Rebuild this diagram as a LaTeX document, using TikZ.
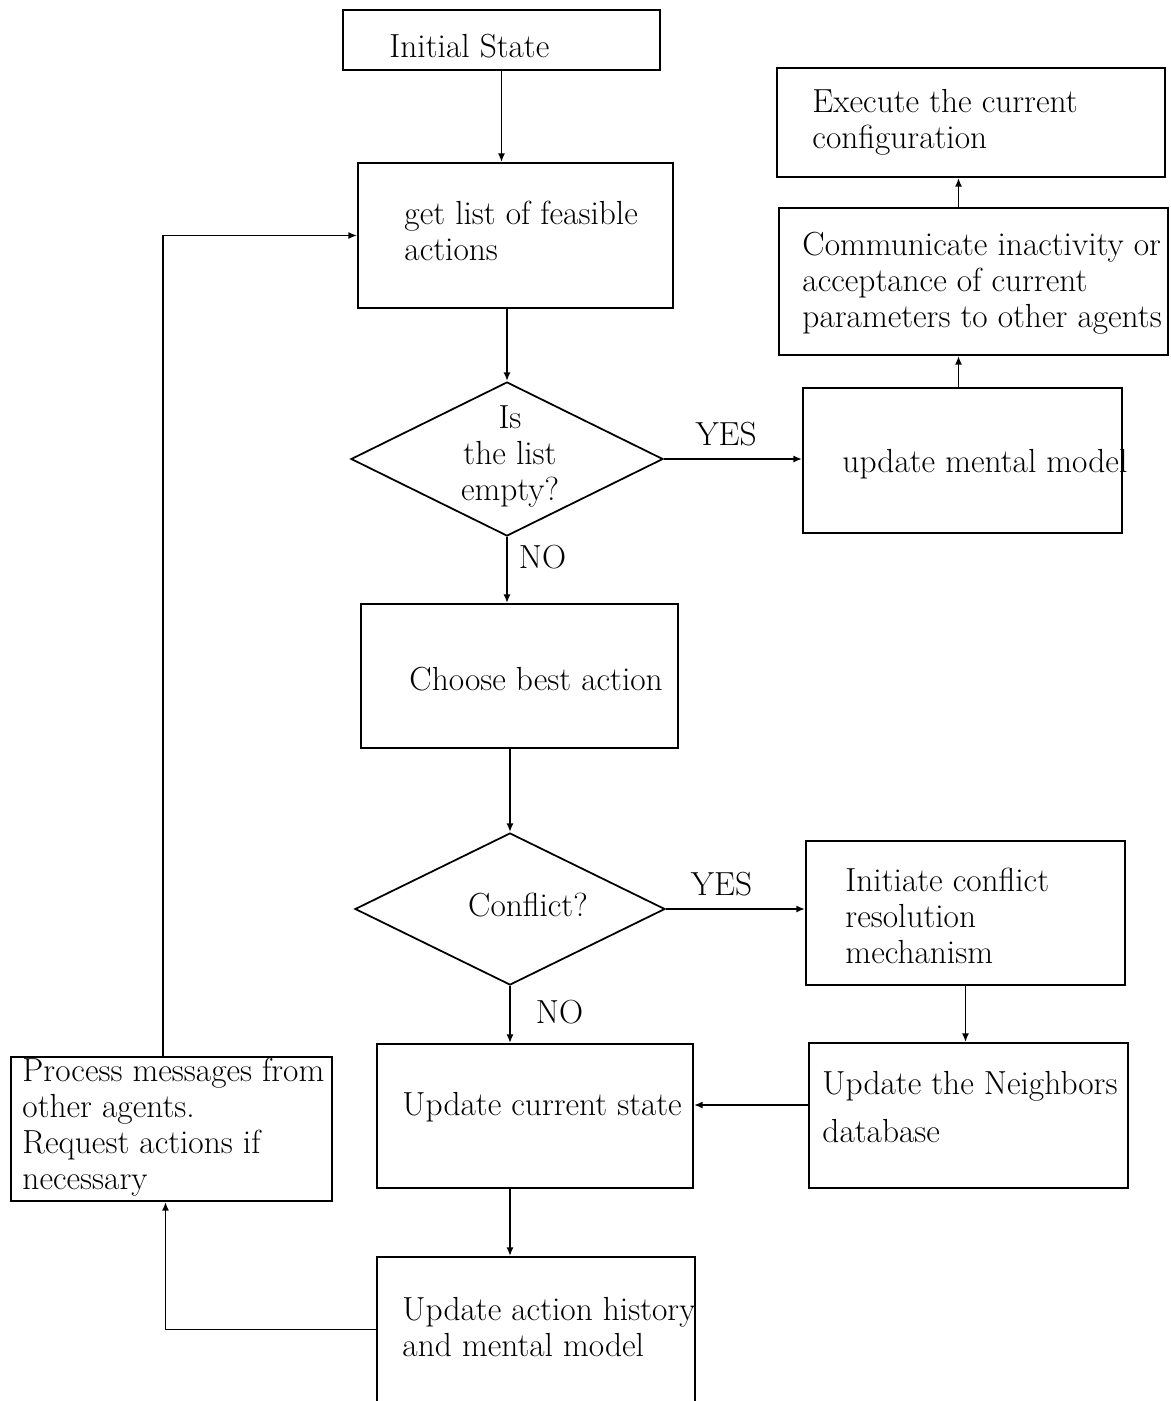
\documentclass[tikz,border=0pt]{standalone}
\usepackage{tikz}
\usetikzlibrary{positioning,arrows.meta,shapes.geometric}

\begin{document}
\begin{tikzpicture}[
    box/.style={draw, line width=1pt, minimum width=#1, minimum height=2.9cm, inner sep=0pt},
    decide/.style={draw, diamond, line width=1pt, inner sep=0pt},
    txt/.style={inner sep=0pt, align=left, font=\fontsize{19}{20.5}\selectfont},
    lbl/.style={inner sep=0pt, align=center, font=\fontsize{19}{20.5}\selectfont},
    arr/.style={-{Latex[length=5pt,width=4pt]}, line width=1.1pt},
]
\useasboundingbox (0,0) rectangle (23.4,-28.02);
\clip (0,0) rectangle (23.4,-28.02);

% Main column
\node[box=6.34cm, minimum height=1.2cm] (init) at (10.03,-0.80) {};
\node[txt, right=0.94cm of init.west, yshift=-0.12cm] (init-t) {Initial State};
\node[box=6.30cm] (feas) at (10.31,-4.71) {};
\node[txt, right=0.94cm of feas.west, yshift=0.09cm] (feas-t) {get list of feasible\\actions};
\node[decide, minimum width=6.24cm, minimum height=3.08cm] (empty) at (10.14,-9.18) {};
\node[lbl] (empty-t) at (10.2,-9.13) {Is\\the list\\empty?};
\node[box=6.34cm, minimum height=2.88cm] (choose) at (10.39,-13.52) {};
\node[txt, right=0.98cm of choose.west, yshift=-0.06cm] (choose-t) {Choose best action};
\node[decide, minimum width=6.2cm, minimum height=3.04cm] (conflict) at (10.2,-18.18) {};
\node[lbl] (conflict-t) at (10.56,-18.10) {Conflict?};
\node[box=6.32cm, minimum height=2.88cm] (cur) at (10.70,-22.32) {};
\node[txt, right=0.52cm of cur.west, yshift=0.18cm] (cur-t) {Update current state};
\node[box=6.36cm] (hist) at (10.72,-26.59) {};
\node[txt, right=0.52cm of hist.west, yshift=0.05cm] (hist-t) {Update action history\\and mental model};

% Right column
\node[box=6.38cm] (upd) at (19.25,-9.21) {};
\node[txt, right=0.80cm of upd.west, yshift=-0.07cm] (upd-t) {update mental model};
\node[box=7.78cm, minimum height=2.94cm] (comm) at (19.47,-5.63) {};
\node[txt, right=0.48cm of comm.west, yshift=-0.04cm] (comm-t) {Communicate inactivity or\\acceptance of current\\parameters to other agents};
\node[box=7.76cm, minimum height=2.18cm] (exec) at (19.42,-2.45) {};
\node[txt, right=0.72cm of exec.west] (exec-t) {Execute the current\\configuration};
\node[box=6.38cm, minimum height=2.88cm] (resol) at (19.31,-18.26) {};
\node[txt, right=0.80cm of resol.west, yshift=-0.06cm] (resol-t) {Initiate conflict\\resolution\\mechanism};
\node[box=6.38cm] (nbr) at (19.37,-22.31) {};
\node[txt, right=0.28cm of nbr.west, yshift=0.17cm] (nbr-t) {Update the Neighbors\\[7pt]database};

% Left column
\node[box=6.42cm, minimum height=2.88cm] (proc) at (3.43,-22.58) {};
\node[txt, right=0.24cm of proc.west, yshift=0.04cm] (proc-t) {Process messages from\\other agents.\\Request actions if\\necessary};

% Connectors
\draw[arr] (init.south) -- (init.south |- feas.north);
\draw[arr] (empty.north |- feas.south) -- (empty.north);
\draw[arr] (empty.east) -- (empty.east -| upd.west) node[lbl, pos=0.45, above=0.25cm] (yes1) {YES};
\draw[arr] ([xshift=-0.08cm]upd.north) -- ([xshift=-0.08cm]upd.north |- comm.south);
\draw[arr] ([xshift=-0.08cm]upd.north |- comm.north) -- ([xshift=-0.08cm]upd.north |- exec.south);
\draw[arr] (empty.south) -- (empty.south |- choose.north) node[lbl, pos=0.3, right=0.22cm] (no1) {NO};
\draw[arr] (conflict.north |- choose.south) -- (conflict.north);
\draw[arr] (conflict.east) -- (conflict.east -| resol.west) node[lbl, pos=0.4, above=0.25cm] (yes2) {YES};
\draw[arr] (resol.south) -- (resol.south |- nbr.north);
\draw[arr] ([yshift=0.21cm]nbr.west) -- ([yshift=0.21cm]nbr.west -| cur.east);
\draw[arr] (conflict.south) -- (conflict.south |- cur.north) node[lbl, pos=0.45, right=0.5cm] (no2) {NO};
\draw[arr] (conflict.south |- cur.south) -- (conflict.south |- hist.north);
\draw[arr] (hist.west) -| ([xshift=-0.12cm]proc.south);
\draw[arr] ([xshift=-0.17cm]proc.north) |- (feas.west);
\end{tikzpicture}
\end{document}
